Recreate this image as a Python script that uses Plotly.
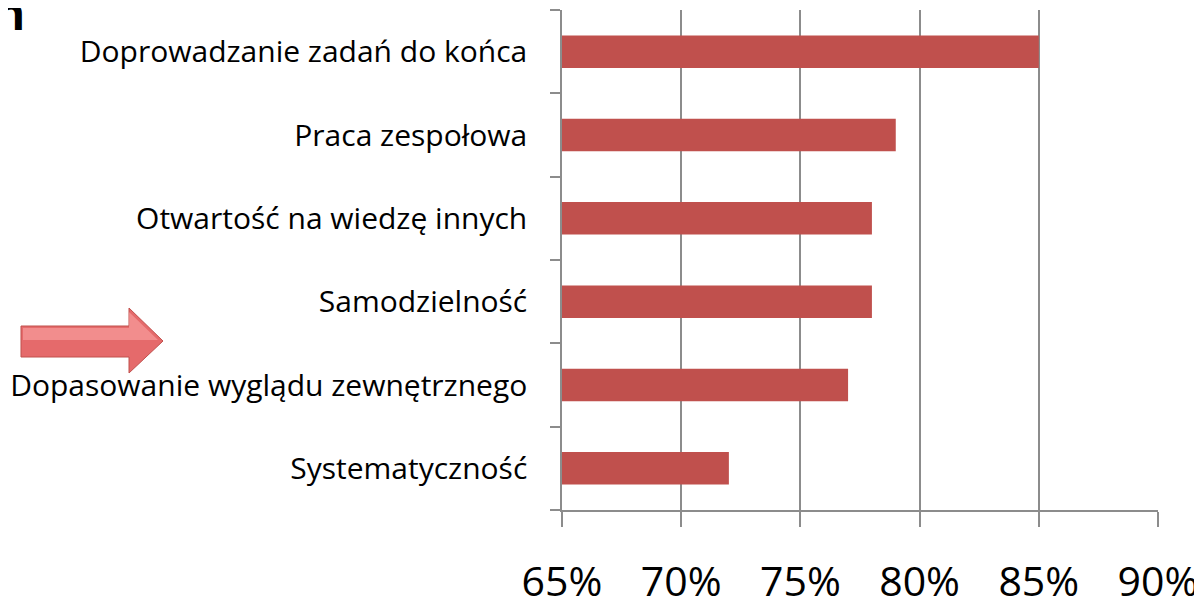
import plotly.graph_objects as go

categories = ["Systematyczność", "Dopasowanie wyglądu zewnętrznego", "Samodzielność",
              "Otwartość na wiedzę innych", "Praca zespołowa", "Doprowadzanie zadań do końca"]
values = [72, 77, 78, 78, 79, 85]
tick_vals = [65, 70, 75, 80, 85, 90]
tick_text = ["65%", "70%", "75%", "80%", "85%", "90%"]

OFF = 8  # page body margin
W, H = 1202 - OFF, 603 - OFF
L, T = 562 - OFF, 10 - OFF
pw, ph = 596, 500
R, B = W - L - pw, H - T - ph

def px(x):  # page pixel -> paper
    return (x - OFF - L) / pw

def py(y):
    return (T + ph - (y - OFF)) / ph

fig = go.Figure(go.Bar(
    x=values, y=categories, orientation="h",
    marker=dict(color="#C0504D", line=dict(width=0)),
    hoverinfo="skip",
))

gray = "#8C8C8C"
fig.update_layout(
    width=W, height=H,
    margin=dict(l=L, r=R, t=T, b=B, autoexpand=False),
    paper_bgcolor="white", plot_bgcolor="white",
    bargap=0.61,
    showlegend=False,
    font=dict(family="Open Sans, Liberation Sans, sans-serif", color="black"),
    xaxis=dict(
        range=[65, 90], tickvals=tick_vals, ticktext=tick_text,
        showgrid=True, gridcolor=gray, gridwidth=1.5,
        showline=True, linecolor=gray, linewidth=1.5,
        ticks="outside", ticklen=15, tickcolor=gray, tickwidth=1.5,
        tickfont=dict(size=41, family="Open Sans, sans-serif"),
        ticklabelstandoff=20,
        automargin=False,
        zeroline=False, fixedrange=True,
    ),
    yaxis=dict(
        categoryorder="array", categoryarray=categories,
        showline=True, linecolor=gray, linewidth=1.5,
        ticks="outside", ticklen=10, tickcolor=gray, tickwidth=1.5,
        tickson="boundaries",
        showgrid=False,
        tickfont=dict(size=30, family="Open Sans, sans-serif"),
        ticklabelstandoff=27,
        automargin=False,
        fixedrange=True,
    ),
)

# decorative arrow (page-pixel positions converted to paper coords)
pts = [(21, 326), (129, 326), (129, 308), (163, 341), (129, 373), (129, 357), (21, 357)]
path = "M " + " L ".join(f"{px(x):.5f},{py(y):.5f}" for x, y in pts) + " Z"
fig.add_shape(type="path", path=path, xref="paper", yref="paper",
              fillcolor="#E56A6B", line=dict(color="#C0504D", width=1), layer="above")
pts2 = [(23, 328), (129, 328), (129, 312), (158, 340), (23, 340)]
path2 = "M " + " L ".join(f"{px(x):.5f},{py(y):.5f}" for x, y in pts2) + " Z"
fig.add_shape(type="path", path=path2, xref="paper", yref="paper",
              fillcolor="rgba(255,175,175,0.5)", line=dict(width=0), layer="above")

# cropped title glyph
fig.add_annotation(text="<b>n</b>", xref="paper", yref="paper",
                   x=px(-7), y=py(-21), xanchor="left", yanchor="top",
                   showarrow=False, font=dict(size=46, color="black",
                                              family="Open Sans, sans-serif"))

fig.write_html("out.html")
